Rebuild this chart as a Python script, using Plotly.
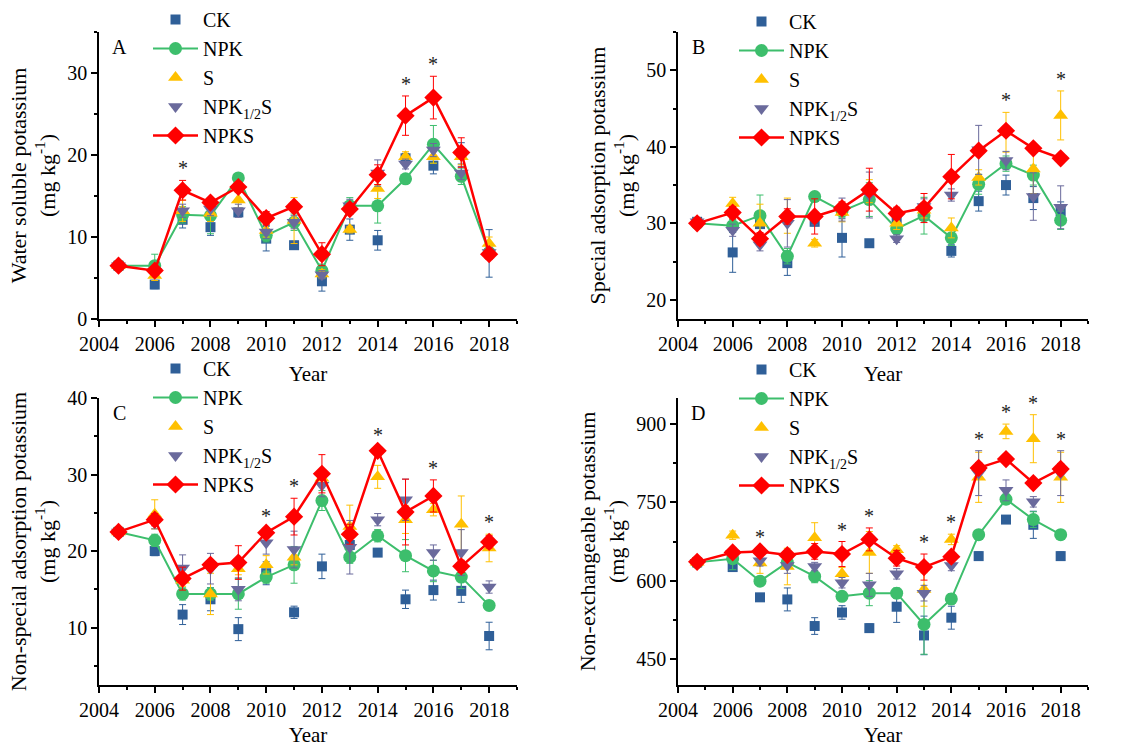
import plotly.graph_objects as go

# ---------------- data ----------------
years = [2004.7, 2006, 2007, 2008, 2009, 2010, 2011, 2012, 2013, 2014, 2015, 2016, 2017, 2018]
series_names = ["CK", "NPK", "S", "NPK<sub>1/2</sub>S", "NPKS"]

# Panel A: water soluble potassium
A_CK = [6.5, 4.2, 12.1, 11.2, 13.0, 9.8, 9.0, 4.6, 10.9, 9.6, 19.6, 18.7, 20.2, 8.0]
A_NPK = [6.5, 6.5, 12.7, 12.6, 17.2, 10.2, 11.8, 5.9, 13.8, 13.8, 17.1, 21.3, 17.4, 8.1]
A_S = [6.5, 5.3, 13.2, 12.9, 14.5, 10.8, 12.0, 5.5, 10.9, 15.9, 19.8, 19.8, 19.8, 9.2]
A_NPKhS = [6.5, 5.8, 13.2, 13.4, 13.2, 10.6, 11.8, 5.4, 13.8, 17.8, 18.9, 20.6, 17.8, 8.1]
A_NPKS = [6.5, 5.9, 15.7, 14.2, 16.1, 12.3, 13.7, 7.9, 13.4, 17.6, 24.8, 27.0, 20.3, 7.9]
A_CK_err = [0.3, 0.5, 1.0, 1.0, 0.5, 1.5, 0.4, 1.2, 1.3, 1.2, 0.6, 1.0, 1.3, 2.9]
A_NPK_err = [0.3, 1.4, 1.0, 2.2, 0.5, 0.8, 1.0, 0.8, 1.0, 2.1, 0.5, 2.3, 1.0, 0.8]
A_S_err = [0.3, 0.6, 1.3, 1.0, 1.0, 0.8, 2.8, 0.5, 0.4, 1.2, 0.6, 0.8, 1.0, 0.8]
A_NPKhS_err = [0.3, 0.5, 0.8, 0.8, 0.8, 0.8, 0.8, 0.5, 0.8, 1.6, 0.6, 0.8, 0.8, 0.6]
A_NPKS_err = [0.3, 0.5, 1.2, 0.6, 0.6, 0.8, 0.6, 1.4, 0.6, 1.2, 2.4, 2.6, 1.8, 0.6]
A_stars = [2007, 2015, 2016]

# Panel B: special adsorption potassium
B_CK = [30.2, 26.2, 29.9, 24.8, 30.2, 28.1, 27.4, 30.6, 31.3, 26.4, 32.9, 35.0, 33.3, 31.6]
B_NPK = [30.0, 29.7, 31.0, 25.7, 33.5, 31.6, 33.1, 29.3, 31.0, 28.1, 35.1, 37.8, 36.3, 30.4]
B_S = [30.2, 32.6, 30.0, 31.0, 27.4, 31.4, 34.2, 30.0, 31.7, 29.4, 36.0, 41.9, 37.1, 44.1]
B_NPKhS = [30.2, 29.1, 27.2, 30.0, 30.6, 31.8, 33.7, 28.0, 32.2, 33.7, 39.6, 38.2, 33.5, 32.1]
B_NPKS = [30.0, 31.4, 28.0, 30.9, 30.9, 32.0, 34.4, 31.3, 32.0, 36.1, 39.5, 42.1, 39.8, 38.5]
B_CK_err = [0.5, 2.6, 0.5, 1.6, 0.5, 2.5, 0.3, 0.8, 0.5, 0.8, 1.3, 1.3, 1.5, 1.2]
B_NPK_err = [0.5, 0.8, 2.7, 1.0, 0.5, 0.8, 2.2, 0.8, 2.4, 1.0, 1.3, 1.0, 1.3, 1.2]
B_S_err = [0.5, 0.8, 2.5, 2.3, 0.5, 1.2, 1.5, 0.8, 1.0, 1.3, 1.0, 2.6, 3.2, 3.2]
B_NPKhS_err = [0.5, 0.8, 0.8, 3.1, 0.8, 1.5, 3.0, 0.5, 1.0, 0.8, 3.2, 1.2, 3.1, 2.8]
B_NPKS_err = [0.5, 0.8, 0.8, 1.0, 2.3, 0.8, 2.8, 0.8, 1.9, 2.9, 0.5, 0.5, 0.5, 0.3]
B_stars = [2016, 2018]

# Panel C: non-special adsorption potassium
C_CK = [22.5, 20.0, 11.7, 13.7, 9.8, 17.1, 12.0, 18.0, 20.8, 19.8, 13.7, 14.9, 14.8, 8.9]
C_NPK = [22.5, 21.4, 14.4, 14.4, 14.4, 16.6, 18.2, 26.6, 19.2, 22.0, 19.4, 17.4, 16.6, 12.9]
C_S = [22.5, 24.8, 16.2, 14.4, 17.7, 18.2, 19.2, 29.5, 23.2, 29.7, 24.1, 25.4, 23.5, 20.4]
C_NPKhS = [22.5, 23.7, 17.8, 17.7, 15.0, 21.1, 20.2, 28.6, 20.5, 24.1, 26.7, 19.8, 19.8, 15.3]
C_NPKS = [22.5, 24.1, 16.4, 18.2, 18.5, 22.4, 24.5, 30.1, 22.2, 33.1, 25.1, 27.2, 18.0, 21.2]
C_CK_err = [0.5, 0.6, 1.3, 1.5, 1.5, 1.5, 0.8, 1.6, 1.0, 0.5, 1.2, 1.3, 1.5, 1.8]
C_NPK_err = [0.5, 0.8, 0.8, 0.8, 2.0, 0.8, 2.4, 1.3, 0.8, 0.8, 2.1, 1.4, 1.5, 0.6]
C_S_err = [0.5, 1.9, 0.8, 2.7, 0.8, 1.2, 1.0, 0.8, 2.8, 1.5, 1.8, 0.8, 3.7, 1.8]
C_NPKhS_err = [0.5, 0.8, 1.7, 2.0, 1.5, 1.5, 2.4, 1.5, 3.5, 0.8, 2.7, 1.0, 3.0, 0.8]
C_NPKS_err = [0.5, 0.8, 1.5, 0.6, 2.2, 0.6, 2.4, 2.5, 1.3, 0.5, 4.3, 2.1, 0.8, 0.8]
C_stars = [2010, 2011, 2014, 2016, 2018]

# Panel D: non-exchangeable potassium
D_CK = [635, 626, 568, 564, 513, 539, 509, 550, 495, 529, 647, 717, 707, 647]
D_NPK = [635, 642, 599, 635, 608, 570, 576, 576, 516, 565, 688, 756, 717, 688]
D_S = [635, 687, 634, 627, 682, 613, 654, 659, 583, 679, 798, 886, 872, 798]
D_NPKhS = [635, 652, 638, 629, 627, 596, 592, 613, 576, 629, 806, 773, 751, 806]
D_NPKS = [636, 654, 656, 649, 656, 651, 679, 643, 626, 646, 816, 833, 787, 814]
D_CK_err = [5, 8, 5, 22, 16, 13, 8, 30, 37, 22, 8, 5, 26, 8]
D_NPK_err = [5, 21, 8, 10, 12, 8, 24, 10, 57, 10, 8, 10, 15, 8]
D_S_err = [5, 8, 20, 35, 29, 12, 40, 8, 32, 10, 48, 14, 46, 48]
D_NPKhS_err = [5, 8, 10, 15, 8, 10, 22, 10, 15, 10, 43, 20, 10, 43]
D_NPKS_err = [5, 8, 5, 8, 15, 24, 22, 15, 25, 5, 10, 5, 5, 10]
D_stars = [2007, 2010, 2011, 2013, 2014, 2015, 2016, 2017, 2018]

y_titles = ["Water soluble potassium<br>(mg kg<sup>-1</sup>)",
            "Special adsorption potassium<br>(mg kg<sup>-1</sup>)",
            "Non-special adsorption potassium<br>(mg kg<sup>-1</sup>)",
            "Non-exchangeable potassium<br>(mg kg<sup>-1</sup>)"]
panel_letters = ["A", "B", "C", "D"]
x_title = "Year"

# ---------------- styles ----------------
W, H = 1142, 747
FONT = "Liberation Serif, Times New Roman, serif"
FS = 20
colors = ["#2F5F98", "#3DBE6C", "#FFC000", "#6A6A9C", "#FF0000"]
symbols = ["square", "circle", "triangle-up", "triangle-down", "diamond"]
msizes = [10, 13, 13, 13, 14]
modes = ["markers", "lines+markers", "markers", "markers", "lines+markers"]
lwidths = [0, 2, 0, 0, 2.5]

panels = [
    dict(vals=[A_CK, A_NPK, A_S, A_NPKhS, A_NPKS],
         errs=[A_CK_err, A_NPK_err, A_S_err, A_NPKhS_err, A_NPKS_err], stars=A_stars,
         px=(99, 517), py=(32, 319), yrange=[0, 35], ytick0=0, ydtick=10, yminor=5,
         leg=(148, 0)),
    dict(vals=[B_CK, B_NPK, B_S, B_NPKhS, B_NPKS],
         errs=[B_CK_err, B_NPK_err, B_S_err, B_NPKhS_err, B_NPKS_err], stars=B_stars,
         px=(678, 1088), py=(32, 319), yrange=[17.5, 55], ytick0=0, ydtick=10, yminor=5,
         leg=(734, 2)),
    dict(vals=[C_CK, C_NPK, C_S, C_NPKhS, C_NPKS],
         errs=[C_CK_err, C_NPK_err, C_S_err, C_NPKhS_err, C_NPKS_err], stars=C_stars,
         px=(99, 517), py=(398, 685), yrange=[2.5, 40], ytick0=0, ydtick=10, yminor=5,
         leg=(148, 349)),
    dict(vals=[D_CK, D_NPK, D_S, D_NPKhS, D_NPKS],
         errs=[D_CK_err, D_NPK_err, D_S_err, D_NPKhS_err, D_NPKS_err], stars=D_stars,
         px=(678, 1088), py=(398, 685), yrange=[400, 950], ytick0=0, ydtick=150, yminor=75,
         leg=(734, 350)),
]

fig = go.Figure()
annotations = []

for p_i, p in enumerate(panels):
    sfx = "" if p_i == 0 else str(p_i + 1)
    xa, ya = "x" + sfx, "y" + sfx
    leg_name = "legend" + sfx
    for s_i in range(5):
        fig.add_trace(go.Scatter(
            x=years, y=p["vals"][s_i], name=series_names[s_i],
            mode=modes[s_i], xaxis=xa, yaxis=ya, legend=leg_name,
            marker=dict(symbol=symbols[s_i], size=msizes[s_i], color=colors[s_i],
                        line=dict(width=0)),
            line=dict(color=colors[s_i], width=lwidths[s_i] if lwidths[s_i] else 1),
            error_y=dict(type="data", array=p["errs"][s_i], visible=True,
                         thickness=1, width=3.5, color=colors[s_i]),
        ))
    # significance stars
    for yr in p["stars"]:
        idx = years.index(yr)
        top = max(p["vals"][k][idx] + p["errs"][k][idx] for k in range(5))
        annotations.append(dict(x=yr, y=top, xref=xa, yref=ya, text="*",
                                showarrow=False, yanchor="bottom", yshift=-1,
                                font=dict(family=FONT, size=FS, color="#222")))
    # panel letter
    annotations.append(dict(x=(p["px"][0] + 20) / W, y=1 - (p["py"][0] + 15) / H,
                            xref="paper", yref="paper", text=panel_letters[p_i],
                            showarrow=False, xanchor="center", yanchor="middle",
                            font=dict(family=FONT, size=FS, color="black")))

    axis_common = dict(showline=True, linecolor="black", linewidth=1.5, ticks="outside",
                       tickcolor="black", tickwidth=1.5, ticklen=6, showgrid=False,
                       zeroline=False, mirror=False, automargin=False,
                       tickfont=dict(family=FONT, size=FS, color="black"))
    fig.layout["xaxis" + sfx] = dict(
        axis_common, domain=[p["px"][0] / W, p["px"][1] / W], range=[2004, 2019],
        tick0=2004, dtick=2, anchor=ya,
        minor=dict(ticks="outside", ticklen=3, dtick=1, tick0=2004, tickcolor="black", tickwidth=1.5),
        title=dict(text=x_title, font=dict(family=FONT, size=21, color="black"), standoff=13),
    )
    fig.layout["yaxis" + sfx] = dict(
        axis_common, domain=[1 - p["py"][1] / H, 1 - p["py"][0] / H], range=p["yrange"],
        tick0=p["ytick0"], dtick=p["ydtick"], anchor=xa,
        minor=dict(ticks="outside", ticklen=3, dtick=p["yminor"], tick0=p["ytick0"],
                   tickcolor="black", tickwidth=1.5),
        title=dict(text=y_titles[p_i], font=dict(family=FONT, size=22, color="black"), standoff=6),
    )
    fig.layout[leg_name] = dict(
        x=p["leg"][0] / W, y=1 - p["leg"][1] / H, xanchor="left", yanchor="top",
        bgcolor="rgba(0,0,0,0)", borderwidth=0, itemwidth=45,
        font=dict(family=FONT, size=FS, color="black"), tracegroupgap=0,
    )

fig.update_layout(
    width=W, height=H, margin=dict(l=0, r=0, t=0, b=0, autoexpand=False),
    paper_bgcolor="white", plot_bgcolor="white",
    font=dict(family=FONT, size=FS, color="black"),
    showlegend=True, annotations=annotations,
)

fig.write_html("out.html")
